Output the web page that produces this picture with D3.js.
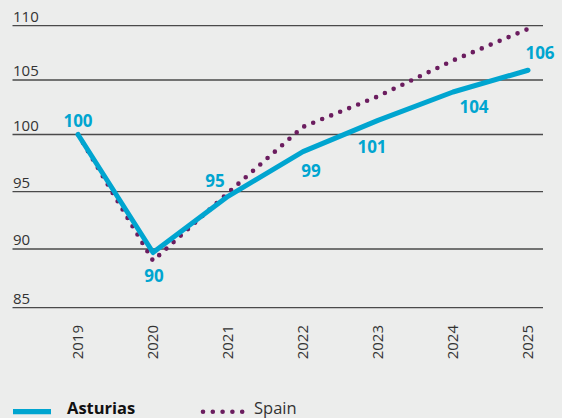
<!DOCTYPE html>
<html>
<head>
<meta charset="utf-8">
<script src="https://cdn.jsdelivr.net/npm/d3@7"></script>
<style>
  body { margin: 0; background: #ecedec; }
  svg { display: block; font-family: "Open Sans", sans-serif; }
</style>
</head>
<body>
<svg id="chart" width="562" height="418"></svg>
<script>
// data
const years = ['2019', '2020', '2021', '2022', '2023', '2024', '2025'];
const asturias = [100, 89.7, 94.6, 98.5, 101.3, 103.9, 105.9];
const spain = [100, 89.0, 94.9, 100.7, 103.5, 106.8, 109.7];
const asturiasLabels = ['100', '90', '95', '99', '101', '104', '106'];
const yTicks = [85, 90, 95, 100, 105, 110];

// colours
const blue = '#00a5d0';
const purple = '#6b1d5f';

const svg = d3.select('#chart');

svg.append('rect')
  .attr('width', 562).attr('height', 418)
  .attr('fill', '#ecedec');

const x = d3.scalePoint().domain(years).range([78, 528]);
// the grid in the picture is not evenly spaced, so use a piecewise scale
const y = d3.scaleLinear()
  .domain(yTicks)
  .range([307.7, 249, 191.7, 134.5, 80, 25.7]);

// gridlines + tick labels
const grid = svg.append('g').attr('class', 'grid');
grid.selectAll('line')
  .data(yTicks)
  .join('line')
    .attr('x1', 12.5)
    .attr('x2', 543)
    .attr('y1', d => y(d))
    .attr('y2', d => y(d))
    .attr('stroke', '#4a4a4a')
    .attr('stroke-width', 1.3);

grid.selectAll('text')
  .data(yTicks)
  .join('text')
    .attr('x', 13)
    .attr('y', d => y(d) - 4)
    .attr('font-size', '15px')
    .attr('fill', '#333')
    .text(d => d);

// year labels (rotated)
svg.append('g')
  .selectAll('text')
  .data(years)
  .join('text')
    .attr('transform', d => 'translate(' + x(d) + ',325) rotate(-90)')
    .attr('text-anchor', 'end')
    .attr('dy', '0.35em')
    .attr('font-size', '15px')
    .attr('fill', '#333')
    .text(d => d);

const line = d3.line()
  .x((d, i) => x(years[i]))
  .y(d => y(d));

// spain dotted line
svg.append('path')
  .datum(spain)
  .attr('d', line)
  .attr('fill', 'none')
  .attr('stroke', purple)
  .attr('stroke-width', 4.6)
  .attr('stroke-linecap', 'round')
  .attr('stroke-dasharray', '0 9.7');

// asturias solid line
svg.append('path')
  .datum(asturias)
  .attr('d', line)
  .attr('fill', 'none')
  .attr('stroke', blue)
  .attr('stroke-width', 5)
  .attr('stroke-linejoin', 'round')
  .attr('stroke-linecap', 'round');

// value labels offsets (dx, dy) from each point
const labelOffsets = [[0, -8], [1, 29], [-13, -9], [8, 25], [-6, 33], [21, 21], [12, -11]];

svg.append('g')
  .selectAll('text')
  .data(asturias)
  .join('text')
    .attr('x', (d, i) => x(years[i]) + labelOffsets[i][0])
    .attr('y', (d, i) => y(d) + labelOffsets[i][1])
    .attr('text-anchor', 'middle')
    .attr('font-size', '17px')
    .attr('font-weight', 'bold')
    .attr('fill', blue)
    .text((d, i) => asturiasLabels[i]);

// legend
const legend = svg.append('g').attr('class', 'legend');
legend.append('line')
  .attr('x1', 13).attr('x2', 51)
  .attr('y1', 411.7).attr('y2', 411.7)
  .attr('stroke', blue)
  .attr('stroke-width', 5.3);
legend.append('text')
  .attr('x', 67).attr('y', 413.5)
  .attr('font-size', '16.5px')
  .attr('font-weight', 'bold')
  .attr('fill', '#111')
  .text('Asturias');
legend.append('line')
  .attr('x1', 203).attr('x2', 243)
  .attr('y1', 411.7).attr('y2', 411.7)
  .attr('stroke', purple)
  .attr('stroke-width', 4.6)
  .attr('stroke-linecap', 'round')
  .attr('stroke-dasharray', '0 9.8');
legend.append('text')
  .attr('x', 254).attr('y', 413.5)
  .attr('font-size', '16.5px')
  .attr('fill', '#333')
  .text('Spain');
</script>
</body>
</html>
